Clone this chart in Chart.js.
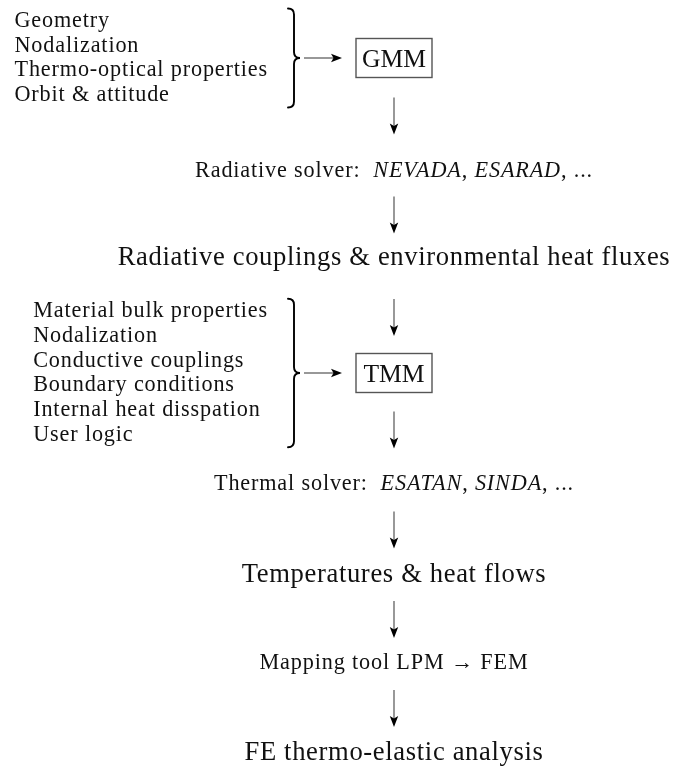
<!DOCTYPE html>
<html><head><meta charset="utf-8">
<script src="https://cdn.jsdelivr.net/npm/chart.js@4/dist/chart.umd.min.js"></script>
<style>html,body{margin:0;padding:0;background:#fff;}canvas{display:block;}</style>
</head><body>
<canvas id="c" width="673" height="767"></canvas>
<script>
// ---- content ----
const gmmInputs = ['Geometry', 'Nodalization', 'Thermo-optical properties', 'Orbit & attitude'];
const tmmInputs = ['Material bulk properties', 'Nodalization', 'Conductive couplings', 'Boundary conditions', 'Internal heat disspation', 'User logic'];
// each flow step: list of [text, italic] segments
const flowSteps = [
  [['GMM', false]],
  [['Radiative solver:  ', false], ['NEVADA', true], [', ', false], ['ESARAD', true], [', ...', false]],
  [['Radiative couplings & environmental heat fluxes', false]],
  [['TMM', false]],
  [['Thermal solver:  ', false], ['ESATAN', true], [', ', false], ['SINDA', true], [', ...', false]],
  [['Temperatures & heat flows', false]],
  [['Mapping tool LPM \u2192 FEM', false]],
  [['FE thermo-elastic analysis', false]]
];
const stepKind = ['model', 'tool', 'result', 'model', 'tool', 'result', 'tool', 'result'];
const stepInputs = { 0: gmmInputs, 3: tmmInputs };

// ---- layout (pixels of the 673x767 page) ----
const layout = {
  columnX: 394,
  stepBaseline: [67, 177, 265, 382, 490, 582, 669, 760],
  listRight: 268,
  listSpacing: 24.7,
  braceX: 288,
  arrowLen: 37,
  fontFamily: '"Liberation Serif", "Times New Roman", serif',
  small: 22.2,
  large: 26.6,
  model: 25.6,
  smallSpacing: '0.85px',
  largeSpacing: '0.65px'
};

const pts = flowSteps.map((s, i) => ({ x: layout.columnX, y: layout.stepBaseline[i] }));

function setFont(ctx, kind, italic) {
  const size = kind === 'tool' ? layout.small : (kind === 'model' ? layout.model : layout.large);
  ctx.font = (italic ? 'italic ' : '') + size + 'px ' + layout.fontFamily;
  ctx.letterSpacing = kind === 'tool' ? layout.smallSpacing : (kind === 'model' ? '0px' : layout.largeSpacing);
}
function segWidth(ctx, segs, kind) {
  let w = 0;
  segs.forEach(([t, it]) => { setFont(ctx, kind, it); w += ctx.measureText(t).width; });
  return w;
}
function arrowDown(ctx, x, y0, y1) {
  ctx.strokeStyle = '#444'; ctx.lineWidth = 1.1;
  ctx.beginPath(); ctx.moveTo(x, y0); ctx.lineTo(x, y1 - 8); ctx.stroke();
  ctx.fillStyle = '#000';
  ctx.beginPath(); ctx.moveTo(x - 4.2, y1 - 11); ctx.lineTo(x, y1 - 8.5); ctx.lineTo(x + 4.2, y1 - 11); ctx.lineTo(x, y1); ctx.closePath(); ctx.fill();
}
function arrowRight(ctx, x0, x1, y) {
  ctx.strokeStyle = '#444'; ctx.lineWidth = 1.1;
  ctx.beginPath(); ctx.moveTo(x0, y); ctx.lineTo(x1 - 8, y); ctx.stroke();
  ctx.fillStyle = '#000';
  ctx.beginPath(); ctx.moveTo(x1 - 11, y - 4.2); ctx.lineTo(x1 - 8.5, y); ctx.lineTo(x1 - 11, y + 4.2); ctx.lineTo(x1, y); ctx.closePath(); ctx.fill();
}
function brace(ctx, x, top, bot) {
  const mid = (top + bot) / 2, w = 12, h = 6;
  ctx.strokeStyle = '#000'; ctx.lineWidth = 1.9; ctx.lineCap = 'round';
  ctx.beginPath();
  ctx.moveTo(x, top);
  ctx.quadraticCurveTo(x + w / 2, top, x + w / 2, top + h);
  ctx.lineTo(x + w / 2, mid - h);
  ctx.quadraticCurveTo(x + w / 2, mid, x + w, mid);
  ctx.quadraticCurveTo(x + w / 2, mid, x + w / 2, mid + h);
  ctx.lineTo(x + w / 2, bot - h);
  ctx.quadraticCurveTo(x + w / 2, bot, x, bot);
  ctx.stroke();
  ctx.lineCap = 'butt';
}

const flowPlugin = {
  id: 'flow',
  afterDatasetsDraw(chart) {
    const ctx = chart.ctx;
    const meta = chart.getDatasetMeta(0);
    ctx.save();
    ctx.textBaseline = 'alphabetic';
    ctx.textAlign = 'left';
    meta.data.forEach((el, i) => {
      const segs = flowSteps[i], kind = stepKind[i];
      const w = segWidth(ctx, segs, kind);
      let x = el.x - w / 2;
      ctx.fillStyle = '#111';
      segs.forEach(([t, it]) => {
        setFont(ctx, kind, it);
        ctx.fillText(t, x, el.y);
        x += ctx.measureText(t).width;
      });
      if (kind === 'model') {
        const top = el.y - 28.5, bot = el.y + 10.5;
        const l = el.x - 38, r = el.x + 38;
        ctx.strokeStyle = '#555'; ctx.lineWidth = 1.4;
        ctx.strokeRect(l, top, r - l, bot - top);
        const c = (top + bot) / 2;
        const items = stepInputs[i];
        setFont(ctx, 'tool', false);
        const maxW = Math.max(...items.map(t => ctx.measureText(t).width));
        const lx = layout.listRight - maxW;
        const n = items.length;
        items.forEach((t, k) => {
          const by = c + 6 + (k - (n - 1) / 2) * layout.listSpacing;
          ctx.fillStyle = '#111';
          ctx.fillText(t, lx, by);
        });
        const half = (n - 1) * layout.listSpacing / 2 + 12.5;
        brace(ctx, layout.braceX, c - half, c + half);
        arrowRight(ctx, layout.braceX + 16, l - 14, c);
      }
    });
    for (let i = 0; i + 1 < meta.data.length; i++) {
      const mid = (meta.data[i].y + meta.data[i + 1].y) / 2 - 6;
      arrowDown(ctx, meta.data[i].x, mid - layout.arrowLen / 2, mid + layout.arrowLen / 2);
    }
    ctx.restore();
  }
};

new Chart(document.getElementById('c'), {
  type: 'scatter',
  data: { datasets: [{ data: pts, pointRadius: 0, pointHoverRadius: 0 }] },
  options: {
    responsive: false, animation: false, events: [],
    layout: { padding: 0 },
    plugins: { legend: { display: false }, tooltip: { enabled: false } },
    scales: {
      x: { type: 'linear', min: 0, max: 673, display: false },
      y: { type: 'linear', min: 0, max: 767, reverse: true, display: false }
    }
  },
  plugins: [flowPlugin]
});
</script>
</body></html>
